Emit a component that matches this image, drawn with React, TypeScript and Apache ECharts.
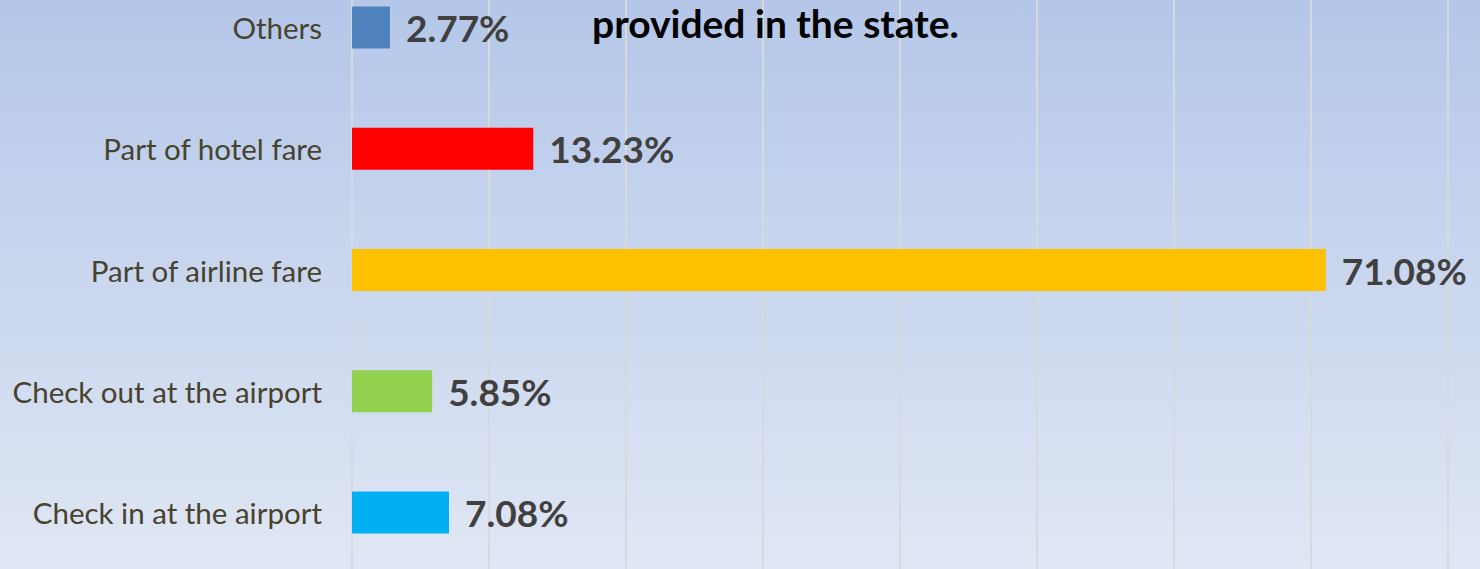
import React, { useEffect, useRef } from "react";
import * as echarts from "echarts";

const categories = [
  "Check in at the airport",
  "Check out at the airport",
  "Part of airline fare",
  "Part of hotel fare",
  "Others",
];
const values = [7.08, 5.85, 71.08, 13.23, 2.77];
const barColors = ["#00b0f0", "#92d050", "#ffc000", "#ff0000", "#4f81bd"];
const titleText = "provided in the state.";

const OFFSET = 33;

export default function App() {
  const ref = useRef<HTMLDivElement>(null);
  useEffect(() => {
    document.body.style.margin = "0";
    document.body.style.overflow = "hidden";
    const chart = echarts.init(ref.current!, null, { renderer: "svg" });
    chart.setOption({
      animation: false,
      backgroundColor: new echarts.graphic.LinearGradient(0, 0, 0, 1, [
        { offset: 0, color: "#b2c5e8" },
        { offset: 1, color: "#e0e7f4" },
      ]),
      graphic: [
        {
          type: "text",
          x: 592,
          y: OFFSET + 23,
          z: 100,
          style: {
            text: titleText,
            font: "bold 39px Lato, 'Open Sans', sans-serif",
            lineHeight: 39,
            fill: "#000000",
            align: "left",
            verticalAlign: "middle",
          },
        },
      ],
      grid: { left: 352, right: 32, top: 0, bottom: 0, containLabel: false },
      xAxis: {
        type: "value",
        min: 0,
        max: 80,
        interval: 10,
        axisLabel: { show: false },
        axisLine: { show: false },
        axisTick: { show: false },
        splitLine: { show: true, lineStyle: { color: "#d9d9d9", width: 2 } },
      },
      yAxis: {
        type: "category",
        data: categories,
        axisLine: { show: true, lineStyle: { color: "#d9d9d9", width: 2 } },
        axisTick: { show: false },
        axisLabel: {
          color: "#48432f",
          fontSize: 29.5,
          fontFamily: "Lato, 'Open Sans', sans-serif",
          margin: 30,
        },
      },
      series: [
        {
          type: "bar",
          barWidth: 42,
          data: values.map((v, i) => ({ value: v, itemStyle: { color: barColors[i] } })),
          label: {
            show: true,
            position: "right",
            distance: 16,
            formatter: (p: any) => p.value.toFixed(2) + "%",
            color: "#404040",
            fontSize: 37,
            fontWeight: "bold",
            fontFamily: "Lato, 'Open Sans', sans-serif",
          },
        },
      ],
    });
    return () => chart.dispose();
  }, []);
  return (
    <div
      ref={ref}
      style={{ position: "fixed", left: 0, top: -OFFSET, width: 1480, height: 569 + OFFSET + 4 }}
    />
  );
}
